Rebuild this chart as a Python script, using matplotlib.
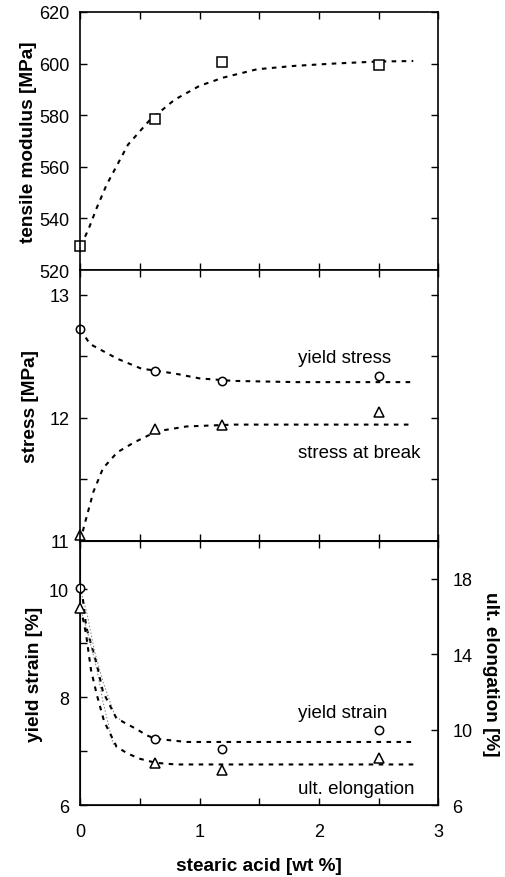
import matplotlib
matplotlib.use('Agg')
import matplotlib.pyplot as plt
import numpy as np

plt.rcParams['font.family'] = ['Liberation Sans', 'DejaVu Sans']

# measured points
sa = [0.0, 0.63, 1.19, 2.5]
modulus = [529.5, 578.5, 600.8, 599.5]
yield_stress = [12.72, 12.38, 12.30, 12.34]
break_stress = [11.05, 11.91, 11.94, 12.05]
yield_strain = [10.02, 7.23, 7.04, 7.40]
ult_elong = [16.45, 8.24, 7.83, 8.49]

# fitted curves
mod_fit_x = [0.0, 0.02, 0.067, 0.137, 0.22, 0.40, 0.58, 0.79, 1.0, 1.2, 1.48, 1.79, 2.12, 2.49, 2.79]
mod_fit_y = [529.5, 531, 535.6, 544, 553, 568.6, 578, 586, 591.4, 594.6, 597.8, 599.1, 600, 600.8, 601]

ys_fit_x = [0.0, 0.08, 0.31, 0.51, 0.79, 1.0, 1.28, 1.8, 2.79]
ys_fit_y = [12.72, 12.60, 12.48, 12.40, 12.36, 12.32, 12.30, 12.29, 12.29]

bs_fit_x = [0.0, 0.04, 0.11, 0.19, 0.31, 0.45, 0.64, 0.89, 1.28, 2.79]
bs_fit_y = [11.0, 11.15, 11.40, 11.59, 11.72, 11.80, 11.89, 11.93, 11.945, 11.945]

ystr_fit_x = [0.0, 0.02, 0.05, 0.137, 0.19, 0.30, 0.36, 0.47, 0.56, 0.63, 0.89, 2.79]
ystr_fit_y = [10.0, 9.85, 9.3, 8.62, 8.10, 7.62, 7.54, 7.41, 7.29, 7.23, 7.17, 7.17]
ystr_thin_x = [0.0, 0.054, 0.12, 0.19, 0.26, 0.29, 0.36]
ystr_thin_y = [10.0, 9.58, 8.85, 8.29, 7.85, 7.66, 7.54]

el_fit_x = [0.0, 0.025, 0.048, 0.09, 0.14, 0.20, 0.305, 0.40, 0.50, 0.63, 0.80, 2.79]
el_fit_y = [16.45, 15.8, 15.07, 13.15, 11.81, 10.43, 9.08, 8.72, 8.45, 8.24, 8.15, 8.15]
el_thin_x = [0.0, 0.067, 0.137, 0.19, 0.25, 0.28, 0.305]
el_thin_y = [16.45, 15.03, 13.25, 11.48, 9.88, 9.16, 9.08]

fig = plt.figure(figsize=(5.05, 8.78), dpi=100)
L, W = 0.159, 0.709
ax1 = fig.add_axes([L, 0.6913, W, 0.2939])
ax2 = fig.add_axes([L, 0.3827, W, 0.3086])
ax3 = fig.add_axes([L, 0.082, W, 0.3007])
ax3r = ax3.twinx()

dash = (0, (2.2, 2.6))
lab_font = dict(fontsize=13.7, fontweight='bold')

for ax in (ax1, ax2, ax3):
    ax.set_xlim(0, 3)
    ax.set_xticks([0, 0.5, 1, 1.5, 2, 2.5, 3])
    ax.tick_params(direction='in', length=5, width=1, top=True, right=True,
                   labelsize=13, pad=8)
    for s in ax.spines.values():
        s.set_linewidth(1.2)

ax1.tick_params(labelbottom=False)
ax2.tick_params(labelbottom=False)

# panel 1
ax1.plot(mod_fit_x, mod_fit_y, color='black', lw=1.5, linestyle=dash)
ax1.plot(sa, modulus, 's', ms=6.5, mfc='white', mec='black', mew=1.1, clip_on=False)
ax1.set_ylim(520, 620)
ax1.set_yticks([520, 540, 560, 580, 600, 620])
ax1.set_ylabel('tensile modulus [MPa]', **lab_font)
ax1.yaxis.set_label_coords(-0.121, 0.5)

# panel 2
ax2.plot(ys_fit_x, ys_fit_y, color='black', lw=1.5, linestyle=dash)
ax2.plot(bs_fit_x, bs_fit_y, color='black', lw=1.5, linestyle=dash)
ax2.plot(sa, yield_stress, 'o', ms=6, mfc='white', mec='black', mew=1.1, clip_on=False)
ax2.plot(sa, break_stress, '^', ms=7, mfc='white', mec='black', mew=1.1, clip_on=False)
ax2.set_ylim(11, 13.2)
ax2.set_yticks([11, 12, 13])
ax2.set_yticks([11.5, 12.5], minor=True)
ax2.tick_params(which='minor', direction='in', length=5, width=1, right=True)
ax2.set_ylabel('stress [MPa]', **lab_font)
ax2.yaxis.set_label_coords(-0.116, 0.5)
ax2.text(1.825, 12.49, 'yield stress', fontsize=13.5, va='center')
ax2.text(1.825, 11.72, 'stress at break', fontsize=13.5, va='center')

# panel 3
ax3.plot(ystr_thin_x, ystr_thin_y, color='gray', lw=0.7, linestyle=(0, (1.5, 2)))
ax3.plot(ystr_fit_x, ystr_fit_y, color='black', lw=1.5, linestyle=dash)
ax3.plot(sa, yield_strain, 'o', ms=6, mfc='white', mec='black', mew=1.1, clip_on=False, zorder=5)
ax3.set_ylim(6, 10.9)
ax3.set_yticks([6, 8, 10])
ax3.set_yticks([7, 9], minor=True)
ax3.tick_params(which='minor', direction='in', length=5, width=1)
ax3.tick_params(right=False, axis='x', pad=13)
ax3.tick_params(axis='y', right=False)
ax3.set_ylabel('yield strain [%]', **lab_font)
ax3.yaxis.set_label_coords(-0.105, 0.5)
ax3.set_xticks([0, 1, 2, 3])
ax3.set_xticks([0.5, 1.5, 2.5], minor=True)
ax3.tick_params(which='minor', axis='x', direction='in', length=5, width=1, top=True)
ax3.set_xlabel('stearic acid [wt %]', labelpad=12, **lab_font)
ax3.text(1.825, 7.71, 'yield strain', fontsize=13.5, va='center')
ax3.text(1.825, 6.30, 'ult. elongation', fontsize=13.5, va='center')

ax3r.plot(el_thin_x, el_thin_y, color='gray', lw=0.7, linestyle=(0, (1.5, 2)))
ax3r.plot(el_fit_x, el_fit_y, color='black', lw=1.5, linestyle=dash)
ax3r.plot(sa, ult_elong, '^', ms=7, mfc='white', mec='black', mew=1.1, clip_on=False, zorder=5)
ax3r.set_ylim(6, 20)
ax3r.set_yticks([6, 10, 14, 18])
ax3r.tick_params(direction='in', length=5, width=1, labelsize=13, pad=10)
ax3r.set_ylabel('ult. elongation [%]', rotation=270, **lab_font)
ax3r.yaxis.set_label_coords(1.17, 0.5)

fig.savefig('out.png', dpi=100)
